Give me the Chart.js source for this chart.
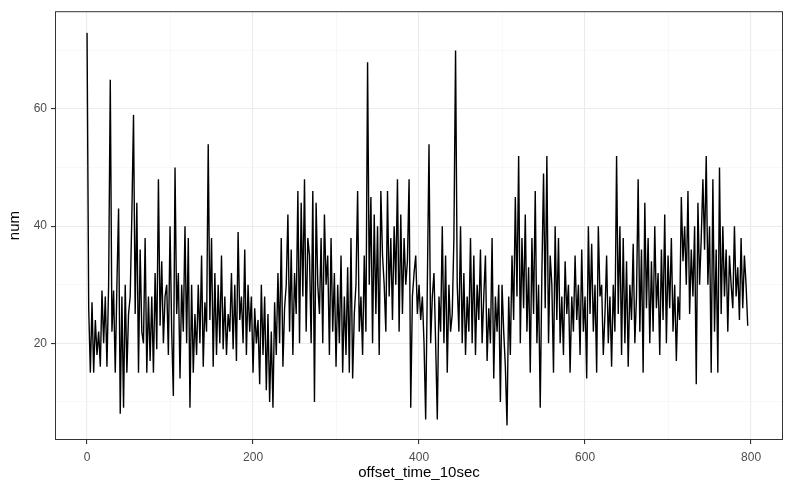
<!DOCTYPE html>
<html><head><meta charset="utf-8">
<script src="https://cdn.jsdelivr.net/npm/chart.js@4"></script>
<style>body{margin:0;background:#fff}#w{width:800px;height:496px}</style>
</head><body><div id="w"><canvas id="c"></canvas></div>
<script>
const xStart = 0, xStep = 2;
const num = [
73,26,15,27,15,24,18,22,16,29,20,28,16,30,65,22,29,15,30,43,
8,28,9,30,15,25,28,42,59,25,44,15,36,22,20,38,15,28,17,28,
15,32,19,48,23,34,20,28,30,18,40,22,11,50,25,32,14,30,22,40,
20,38,9,30,15,25,18,30,20,35,16,27,22,54,24,38,16,32,18,30,
20,35,19,28,18,25,22,32,19,30,17,39,24,28,20,36,18,30,22,28,
15,26,20,24,13,30,18,28,12,25,10,22,9,27,18,32,20,38,16,26,
30,42,22,36,18,32,25,46,20,44,28,48,22,38,35,20,46,10,44,30,
25,38,20,42,30,35,18,38,22,32,16,30,20,35,15,28,18,33,15,38,
14,25,30,46,22,28,18,35,22,68,30,45,20,42,25,40,18,46,35,30,
22,46,28,38,24,40,30,48,22,42,25,38,30,34,48,9,28,32,35,25,
30,24,28,20,7,30,54,20,28,32,20,7,28,22,40,20,35,15,30,22,
25,38,70,30,22,40,20,32,18,28,22,38,20,35,18,30,24,36,20,28,
35,17,26,20,38,14,28,22,30,10,30,22,16,6,28,18,35,24,45,28,
52,20,38,26,42,22,33,15,38,25,46,20,30,9,32,49,26,52,20,35,
30,15,40,24,38,20,28,18,34,25,30,15,28,22,35,24,30,18,36,22,
28,14,40,25,37,22,30,15,40,28,30,18,25,35,20,28,16,30,22,52,
25,40,18,38,20,34,16,30,24,37,20,28,48,22,36,15,44,26,38,20,
34,22,40,26,32,18,36,24,42,20,35,26,38,22,30,17,28,24,45,34,
40,30,46,25,36,28,40,13,44,30,38,48,36,52,30,40,15,48,22,36,
15,50,25,40,28,36,22,35,30,26,40,28,33,24,38,26,35,30,23
];
const xTicks = [0,200,400,600,800];
const yTicks = [20,40,60];
const pts = num.map((v,i)=>({x:xStart+i*xStep,y:v}));
const border = {id:'b',afterDraw(c){const a=c.chartArea,g=c.ctx;g.save();g.strokeStyle='#333';g.lineWidth=1;g.strokeRect(a.left+0.5,a.top+0.5,a.right-a.left-1,a.bottom-a.top-1);g.restore();}};
new Chart(document.getElementById('c'),{
type:'line',
data:{datasets:[{data:pts,borderColor:'#000',borderWidth:1.4,pointRadius:0,tension:0}]},
options:{responsive:true,maintainAspectRatio:false,animation:false,
layout:{padding:{top:10,right:17,left:2,bottom:14}},
plugins:{legend:{display:false},tooltip:{enabled:false}},
scales:{
x:{type:'linear',min:-38.6,max:838.5,
 afterBuildTicks(s){s.ticks=[0,100,200,300,400,500,600,700,800].map(v=>({value:v}));},
 afterFit(s){s.height=42;},
 grid:{color:c=>xTicks.includes(c.tick.value)?'#ebebeb':'#f4f4f4',lineWidth:c=>xTicks.includes(c.tick.value)?1.1:0.6,drawTicks:true,tickLength:4,tickColor:c=>xTicks.includes(c.tick.value)?'#333':'rgba(0,0,0,0)'},
 border:{display:false},
 ticks:{color:'#4d4d4d',font:{family:'Liberation Sans',size:12},padding:6,maxRotation:0,autoSkip:false,callback:v=>xTicks.includes(v)?String(v):''},
 title:{display:true,text:'offset_time_10sec',color:'#000',font:{family:'Liberation Sans',size:15},padding:{top:2,bottom:0}}},
y:{type:'linear',min:3.5,max:76.7,
 afterBuildTicks(s){s.ticks=[10,20,30,40,50,60,70].map(v=>({value:v}));},
 afterFit(s){s.width=53;},
 grid:{color:c=>yTicks.includes(c.tick.value)?'#ebebeb':'#f4f4f4',lineWidth:c=>yTicks.includes(c.tick.value)?1.1:0.6,tickLength:4,tickColor:c=>yTicks.includes(c.tick.value)?'#333':'rgba(0,0,0,0)'},
 border:{display:false},
 ticks:{color:'#4d4d4d',font:{family:'Liberation Sans',size:12},padding:4,autoSkip:false,callback:v=>yTicks.includes(v)?String(v):''},
 title:{display:true,text:'num',color:'#000',font:{family:'Liberation Sans',size:15},padding:{bottom:4}}}
}},
plugins:[border]});
</script></body></html>
